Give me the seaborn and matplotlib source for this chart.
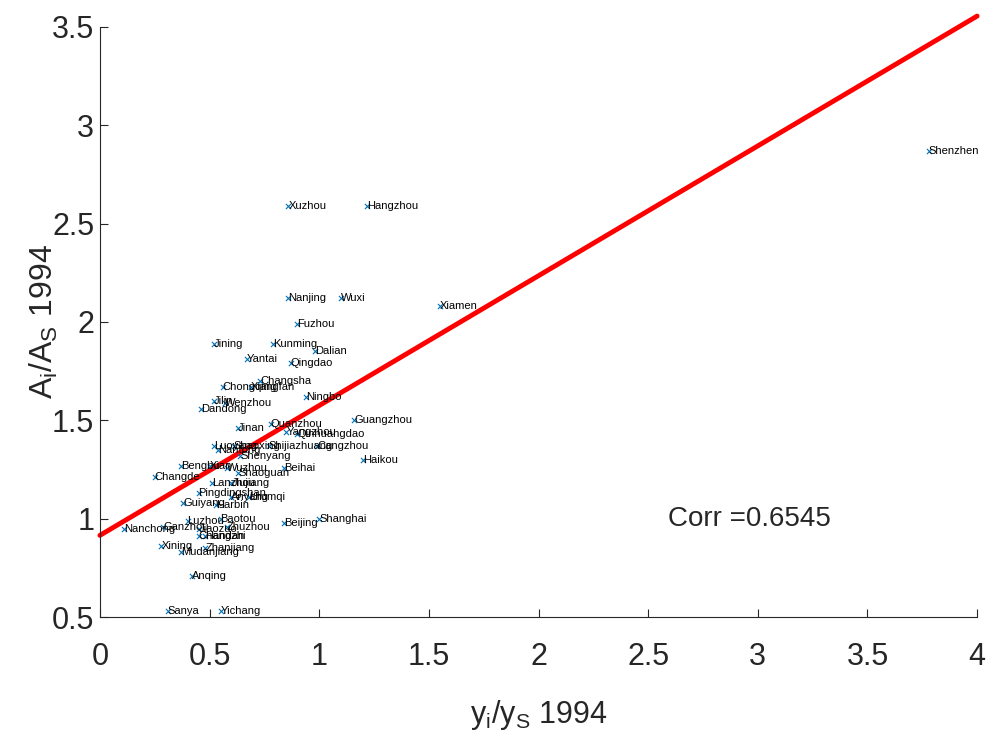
import matplotlib
matplotlib.use("Agg")
import matplotlib.pyplot as plt
import seaborn as sns
import pandas as pd
import numpy as np

cities = ["Shenzhen", "Xuzhou", "Hangzhou", "Nanjing", "Wuxi", "Xiamen", "Fuzhou",
          "Jining", "Kunming", "Dalian", "Yantai", "Qingdao", "Changsha", "Chongqing",
          "Xiangfan", "Ningbo", "Jilin", "Wenzhou", "Dandong", "Guangzhou", "Jinan",
          "Quanzhou", "Yangzhou", "Qinhuangdao", "Shijiazhuang", "Cangzhou", "Haikou",
          "Beihai", "Luoyang", "Nantong", "Shaoxing", "Shenyang", "Bengbu", "Xian",
          "Changde", "Wuzhou", "Shaoguan", "Lanzhou", "Jiujiang", "Pingdingshan",
          "Anyang", "Urumqi", "Guiyang", "Harbin", "Luzhou", "Baotou", "Beijing",
          "Shanghai", "Nanchong", "Ganzhou", "Jiaozuo", "Zhuzhou", "Changzhi", "Handan",
          "Xining", "Zhanjiang", "Mudanjiang", "Anqing", "Sanya", "Yichang"]
y_ratio = [3.78, 0.86, 1.22, 0.86, 1.10, 1.55, 0.90,
           0.52, 0.79, 0.98, 0.67, 0.87, 0.73, 0.56,
           0.69, 0.94, 0.52, 0.57, 0.46, 1.16, 0.63,
           0.78, 0.85, 0.90, 0.77, 0.99, 1.20,
           0.84, 0.52, 0.54, 0.61, 0.64, 0.37, 0.50,
           0.25, 0.58, 0.63, 0.51, 0.60, 0.45,
           0.60, 0.68, 0.38, 0.53, 0.40, 0.55, 0.84,
           1.00, 0.11, 0.29, 0.45, 0.58, 0.45, 0.48,
           0.28, 0.48, 0.37, 0.42, 0.31, 0.55]
a_ratio = [2.87, 2.59, 2.59, 2.12, 2.12, 2.08, 1.99,
           1.89, 1.89, 1.85, 1.81, 1.79, 1.70, 1.67,
           1.67, 1.62, 1.60, 1.59, 1.56, 1.50, 1.46,
           1.48, 1.44, 1.43, 1.37, 1.37, 1.30,
           1.26, 1.37, 1.35, 1.37, 1.32, 1.27, 1.27,
           1.21, 1.26, 1.23, 1.18, 1.18, 1.13,
           1.11, 1.11, 1.08, 1.07, 0.99, 1.00, 0.98,
           1.00, 0.95, 0.96, 0.95, 0.96, 0.91, 0.91,
           0.86, 0.85, 0.83, 0.71, 0.53, 0.53]
fit_intercept = 0.915
fit_slope = 0.66
fit_x = [0, 4]
corr_text = "Corr =0.6545"

df = pd.DataFrame({"city": cities, "y": y_ratio, "a": a_ratio})
line_df = pd.DataFrame({"x": fit_x,
                        "fit": [fit_intercept + fit_slope * v for v in fit_x]})

sns.set_theme(style="ticks")
fam = ["Liberation Sans", "DejaVu Sans"]
plt.rcParams["font.family"] = fam
plt.rcParams["mathtext.fontset"] = "custom"
plt.rcParams["mathtext.rm"] = "Liberation Sans"
plt.rcParams["mathtext.it"] = "Liberation Sans"

fig = plt.figure(figsize=(9.89, 7.47), dpi=100)
ax = fig.add_axes([0.101, 0.174, 0.887, 0.790])

sns.scatterplot(data=df, x="y", y="a", marker="x", color="#0072BD", s=14,
                linewidth=0.8, ax=ax, zorder=3)
sns.lineplot(data=line_df, x="x", y="fit", color="red", linewidth=3.5, ax=ax, zorder=2)
for ln in ax.get_lines():
    ln.set_clip_on(False)

for c, xv, yv in zip(cities, y_ratio, a_ratio):
    ax.text(xv, yv, c, fontsize=8, va="center", ha="left", color="black", zorder=4)

ax.text(2.59, 1.0, corr_text, fontsize=20, va="center", ha="left")

ax.set_xlim(0, 4)
ax.set_ylim(0.5, 3.5)
ax.set_xticks([0, 0.5, 1, 1.5, 2, 2.5, 3, 3.5, 4])
ax.set_xticklabels(["0", "0.5", "1", "1.5", "2", "2.5", "3", "3.5", "4"])
ax.set_yticks([0.5, 1, 1.5, 2, 2.5, 3, 3.5])
ax.set_yticklabels(["0.5", "1", "1.5", "2", "2.5", "3", "3.5"])
ax.tick_params(direction="in", labelsize=22, length=6, width=0.8, colors="#262626")
ax.tick_params(axis="x", pad=18)
ax.tick_params(axis="y", pad=4)
ax.set_xlabel(r"$\mathregular{y_i/y_S}$ 1994", fontsize=22, color="#262626")
ax.set_ylabel(r"$\mathregular{A_i/A_S}$ 1994", fontsize=23, color="#262626")
ax.xaxis.set_label_coords(0.5, -0.138)
ax.yaxis.set_label_coords(-0.046, 0.5)
sns.despine(ax=ax)
for s in ["left", "bottom"]:
    ax.spines[s].set_color("#262626")
    ax.spines[s].set_linewidth(0.8)

fig.savefig("out.png", dpi=100)
